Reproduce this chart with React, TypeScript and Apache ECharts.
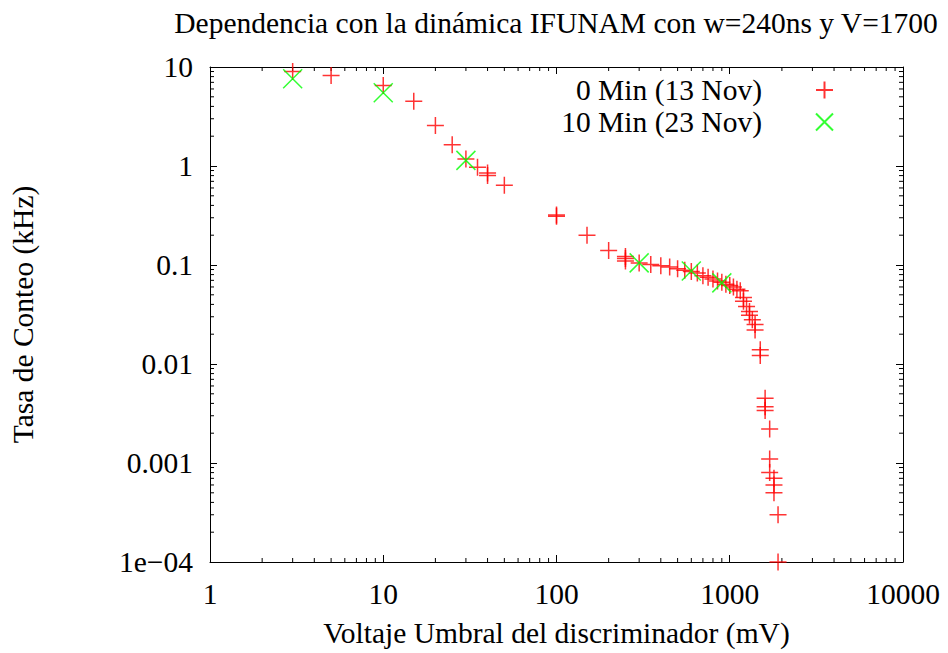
import React, { useEffect, useRef } from "react";
import * as echarts from "echarts";

const FONT = "'Liberation Serif', 'Times New Roman', serif";

const titleText = "Dependencia con la dinámica IFUNAM con w=240ns y V=1700";
const xName = "Voltaje Umbral del discriminador (mV)";
const yName = "Tasa de Conteo (kHz)";
const seriesNames = ["0 Min (13 Nov)", "10 Min (23 Nov)"];

// 0 Min (13 Nov) — red plus markers
const redX = [
  3, 5, 10, 15, 20, 25, 30, 35, 40, 40, 50, 100, 100, 150, 200,
  250, 250, 250, 300, 350, 400, 450, 500, 550, 600, 650, 700, 750, 800, 850, 900, 950,
  1000, 1050, 1100, 1150, 1200, 1200, 1250, 1300, 1300, 1350, 1400, 1400,
  1500, 1500, 1600, 1600, 1600, 1700, 1700, 1700, 1800, 1800, 1800, 1900, 1900,
];
const redY = [
  9.0, 8.2, 6.5, 4.5, 2.56, 1.64, 1.18, 0.97, 0.85, 0.8, 0.64, 0.32, 0.31, 0.2, 0.14,
  0.122, 0.116, 0.11, 0.105, 0.101, 0.098, 0.0957, 0.0914, 0.0885, 0.086, 0.083, 0.078, 0.075, 0.072, 0.069, 0.067, 0.064,
  0.062, 0.06, 0.057, 0.055, 0.047, 0.043, 0.038, 0.034, 0.031, 0.028, 0.025, 0.022,
  0.0139, 0.0122, 0.0045, 0.0037, 0.0034, 0.0022, 0.0011, 0.0008, 0.0007, 0.0006, 0.0005, 0.0003, 0.0001,
];

// 10 Min (23 Nov) — green cross markers
const greenX = [3, 10, 30, 300, 600, 900];
const greenY = [7.6, 5.5, 1.14, 0.105, 0.087, 0.066];

const xTickValues = [1, 10, 100, 1000, 10000];
const yTickValues = [0.0001, 0.001, 0.01, 0.1, 1, 10];

const PLUS = "path://M1,0L1,2M0,1L2,1";
const CROSS = "path://M0,0L2,2M2,0L0,2";

function minorValues(ticks: number[]) {
  const out: number[] = [];
  for (let i = 0; i < ticks.length - 1; i++) {
    for (let k = 2; k <= 9; k++) out.push(ticks[i] * k);
  }
  return out;
}

function fmtY(v: number) {
  const e = Math.round(Math.log10(v));
  if (e >= 0) return String(Math.pow(10, e));
  if (e >= -3) return Math.pow(10, e).toFixed(-e);
  return "1e\u2212" + String(-e).padStart(2, "0");
}
function fmtX(v: number) {
  return String(Math.round(v));
}

export default function App() {
  const ref = useRef<HTMLDivElement>(null);
  useEffect(() => {
    if (!ref.current) return;
    const chart = echarts.init(ref.current, null, { renderer: "svg" });
    const red = redX.map((x, i) => [x, redY[i]]);
    const green = greenX.map((x, i) => [x, greenY[i]]);
    const xMinor = minorValues(xTickValues).map((v) => [v, 1]);
    const yMinor = minorValues(yTickValues).map((v) => [1, v]);
    const black = "#000";
    const axisCommon = {
      type: "log",
      logBase: 10,
      splitLine: { show: false },
      axisLine: { lineStyle: { color: black, width: 1 } },
      axisTick: { inside: true, length: 7, lineStyle: { color: black, width: 1 } },
      minorTick: { show: false },
    };
    const textCommon = { fontFamily: FONT, fontSize: 29.5, color: black };
    const mkMinor = (isX: boolean) => (params: any, api: any) => {
      const v = api.value(isX ? 0 : 1);
      const cs = params.coordSys;
      const L = 4;
      const style = { stroke: black, lineWidth: 1 };
      if (isX) {
        const p = api.coord([v, 1]);
        return {
          type: "group",
          children: [
            { type: "line", shape: { x1: p[0], y1: cs.y + cs.height, x2: p[0], y2: cs.y + cs.height - L }, style },
            { type: "line", shape: { x1: p[0], y1: cs.y, x2: p[0], y2: cs.y + L }, style },
          ],
        };
      }
      const p = api.coord([1, v]);
      return {
        type: "group",
        children: [
          { type: "line", shape: { x1: cs.x, y1: p[1], x2: cs.x + L, y2: p[1] }, style },
          { type: "line", shape: { x1: cs.x + cs.width, y1: p[1], x2: cs.x + cs.width - L, y2: p[1] }, style },
        ],
      };
    };
    chart.setOption({
      animation: false,
      backgroundColor: "#fff",
      title: {
        text: titleText,
        left: 551,
        top: 3,
        textAlign: "center",
        textStyle: { ...textCommon, fontWeight: "normal" },
      },
      grid: { left: 207, top: 67, width: 696, height: 496, containLabel: false },
      legend: {
        orient: "vertical",
        right: 114,
        top: 75,
        align: "right",
        padding: 0,
        itemGap: 2,
        itemWidth: 17,
        itemHeight: 17,
        selectedMode: false,
        data: seriesNames,
        textStyle: { ...textCommon, padding: [0, 49, 0, 0] },
      },
      xAxis: [
        {
          ...axisCommon,
          min: 1,
          max: 10000,
          position: "bottom",
          name: xName,
          nameLocation: "middle",
          nameGap: 56,
          nameTextStyle: textCommon,
          axisLabel: { ...textCommon, margin: 17, formatter: fmtX, showMinLabel: true, showMaxLabel: true },
        },
        {
          ...axisCommon,
          min: 1,
          max: 10000,
          position: "top",
          axisLabel: { show: false },
        },
      ],
      yAxis: [
        {
          ...axisCommon,
          min: 0.0001,
          max: 10,
          position: "left",
          name: yName,
          nameLocation: "middle",
          nameGap: 172,
          nameTextStyle: textCommon,
          axisLabel: { ...textCommon, margin: 17, formatter: fmtY, showMinLabel: true, showMaxLabel: true },
        },
        {
          ...axisCommon,
          min: 0.0001,
          max: 10,
          position: "right",
          axisLabel: { show: false },
        },
      ],
      series: [
        {
          type: "custom",
          name: "xminor",
          xAxisIndex: 0,
          yAxisIndex: 0,
          data: xMinor,
          renderItem: mkMinor(true),
          silent: true,
          clip: false,
          z: 1,
        },
        {
          type: "custom",
          name: "yminor",
          xAxisIndex: 0,
          yAxisIndex: 0,
          data: yMinor,
          renderItem: mkMinor(false),
          silent: true,
          clip: false,
          z: 1,
        },
        {
          type: "scatter",
          name: seriesNames[0],
          data: red,
          symbol: PLUS,
          symbolSize: 17,
          itemStyle: { color: "rgba(0,0,0,0)", borderColor: "#ff0000", borderWidth: 1.5 },
          z: 3,
        },
        {
          type: "scatter",
          name: seriesNames[1],
          data: green,
          symbol: CROSS,
          symbolSize: 19,
          itemStyle: { color: "rgba(0,0,0,0)", borderColor: "#00ff00", borderWidth: 1.5 },
          z: 4,
        },
      ],
    });
    return () => chart.dispose();
  }, []);
  return (
    <div
      ref={ref}
      style={{ position: "fixed", left: 0, top: 0, width: 948, height: 653, background: "#fff" }}
    />
  );
}
